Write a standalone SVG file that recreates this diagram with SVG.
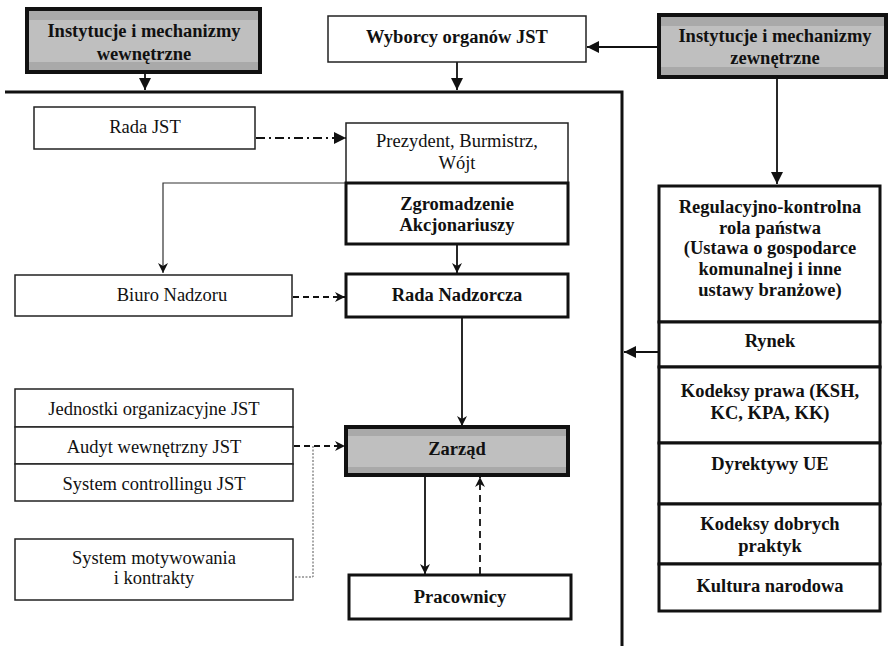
<svg xmlns="http://www.w3.org/2000/svg" width="888" height="646" viewBox="0 0 888 646">
<style>
text{font-family:'Liberation Serif','Times New Roman',serif;font-size:18.5px;fill:#111;text-anchor:middle}
.b{font-weight:bold}
.thin{fill:#fff;stroke:#222;stroke-width:1.5}
.thick{fill:#fff;stroke:#111;stroke-width:3}
.gray{fill:url(#g);stroke:#111;stroke-width:4}
.ln{fill:none;stroke:#111;stroke-width:1.8}
.frame{fill:none;stroke:#111;stroke-width:3}
</style>
<defs>
<linearGradient id="g" x1="0" y1="0" x2="0" y2="1">
<stop offset="0" stop-color="#a9a9a9"/><stop offset="0.18" stop-color="#a9a9a9"/>
<stop offset="0.18" stop-color="#bfbfbf"/><stop offset="0.84" stop-color="#bfbfbf"/>
<stop offset="0.84" stop-color="#a9a9a9"/><stop offset="1" stop-color="#a9a9a9"/>
</linearGradient>
<marker id="a" markerUnits="userSpaceOnUse" markerWidth="14" markerHeight="12" refX="12" refY="6" orient="auto">
<path d="M0,0 L12,6 L0,12 z" fill="#111"/>
</marker>
<marker id="a2" markerUnits="userSpaceOnUse" markerWidth="12" markerHeight="12" refX="10" refY="6" orient="auto">
<path d="M0,1 L10,6 L0,11 L3,6 z" fill="#111"/>
</marker>
</defs>

<g id="connectors">
<path class="frame" d="M5,92 H622 V646"/>
<path class="ln" d="M145,73 V90" marker-end="url(#a)"/>
<path class="ln" d="M457,62 V90" marker-end="url(#a)"/>
<path class="ln" d="M658,47 H587" marker-end="url(#a)"/>
<path class="ln" d="M777,77 V184" marker-end="url(#a)"/>
<path class="ln" d="M659,352 H624" marker-end="url(#a)"/>
<path class="ln" d="M256,138 H346" stroke-dasharray="9,4,2,4" marker-end="url(#a)"/>
<path d="M346,183 H163 V273" fill="none" stroke="#333" stroke-width="1.2" marker-end="url(#a2)"/>
<path class="ln" d="M457,245 V273" marker-end="url(#a2)"/>
<path class="ln" d="M293,297 H345" stroke-dasharray="6,4" marker-end="url(#a2)"/>
<path class="ln" d="M462,318 V426" marker-end="url(#a2)"/>
<path class="ln" d="M294,446 H345" stroke-dasharray="6,4" marker-end="url(#a2)"/>
<path d="M313,446 V577 H294" fill="none" stroke="#555" stroke-width="1" stroke-dasharray="2,1.5"/>
<path class="ln" d="M425,476 V574" marker-end="url(#a2)"/>
<path class="ln" d="M480,574 V477" stroke-dasharray="7,5" marker-end="url(#a2)"/>
</g>

<g id="inst-wew">
<rect class="gray" x="27" y="9" width="233" height="63"/>
<text class="b" x="144" y="37">Instytucje i mechanizmy</text>
<text class="b" x="144" y="60">wewnętrzne</text>
</g>

<g id="wyborcy">
<rect class="thin" x="328" y="16" width="258" height="46"/>
<text class="b" x="457" y="43">Wyborcy organów JST</text>
</g>

<g id="inst-zew">
<rect class="gray" x="659" y="15" width="227" height="62"/>
<text class="b" x="775" y="42">Instytucje i mechanizmy</text>
<text class="b" x="775" y="64">zewnętrzne</text>
</g>

<g id="rada-jst">
<rect class="thin" x="34" y="107" width="221" height="42"/>
<text x="145" y="133">Rada JST</text>
</g>

<g id="prezydent">
<rect class="thin" x="346" y="123" width="222" height="60"/>
<text x="457" y="147">Prezydent, Burmistrz,</text>
<text x="457" y="169">Wójt</text>
</g>

<g id="zgromadzenie">
<rect class="thick" x="346" y="183" width="222" height="61"/>
<text class="b" x="457" y="210">Zgromadzenie</text>
<text class="b" x="457" y="231">Akcjonariuszy</text>
</g>

<g id="biuro">
<rect class="thin" x="15" y="275" width="277" height="41"/>
<text x="172" y="301">Biuro Nadzoru</text>
</g>

<g id="rada-nadzorcza">
<rect class="thick" x="346" y="274" width="222" height="43"/>
<text class="b" x="457" y="301">Rada Nadzorcza</text>
</g>

<g id="jst-stack">
<rect class="thin" x="15" y="389" width="278" height="38"/>
<text x="154" y="415">Jednostki organizacyjne JST</text>
<rect class="thin" x="15" y="427" width="278" height="37"/>
<text x="154" y="453">Audyt wewnętrzny JST</text>
<rect class="thin" x="15" y="464" width="278" height="37"/>
<text x="154" y="490">System controllingu JST</text>
</g>

<g id="motywowanie">
<rect class="thin" x="15" y="539" width="278" height="61"/>
<text x="154" y="564">System motywowania</text>
<text x="154" y="584">i kontrakty</text>
</g>

<g id="zarzad">
<rect class="gray" x="346" y="427" width="222" height="48" stroke-width="3.5"/>
<text class="b" x="457" y="455">Zarząd</text>
</g>

<g id="pracownicy">
<rect class="thick" x="349" y="575" width="222" height="44" stroke-width="2.5"/>
<text class="b" x="460" y="603">Pracownicy</text>
</g>

<g id="zew-stack">
<rect class="thick" x="659" y="186" width="221" height="136"/>
<text class="b" x="770" y="213">Regulacyjno-kontrolna</text>
<text class="b" x="770" y="234">rola państwa</text>
<text class="b" x="770" y="254">(Ustawa o gospodarce</text>
<text class="b" x="770" y="275">komunalnej i inne</text>
<text class="b" x="770" y="296">ustawy branżowe)</text>
<rect class="thick" x="659" y="322" width="221" height="45"/>
<text class="b" x="770" y="347">Rynek</text>
<rect class="thick" x="659" y="367" width="221" height="76"/>
<text class="b" x="770" y="397">Kodeksy prawa (KSH,</text>
<text class="b" x="770" y="419">KC, KPA, KK)</text>
<rect class="thick" x="659" y="443" width="221" height="61"/>
<text class="b" x="770" y="470">Dyrektywy UE</text>
<rect class="thick" x="659" y="504" width="221" height="60"/>
<text class="b" x="770" y="530">Kodeksy dobrych</text>
<text class="b" x="770" y="552">praktyk</text>
<rect class="thick" x="659" y="564" width="221" height="47"/>
<text class="b" x="770" y="592">Kultura narodowa</text>
</g>
</svg>
